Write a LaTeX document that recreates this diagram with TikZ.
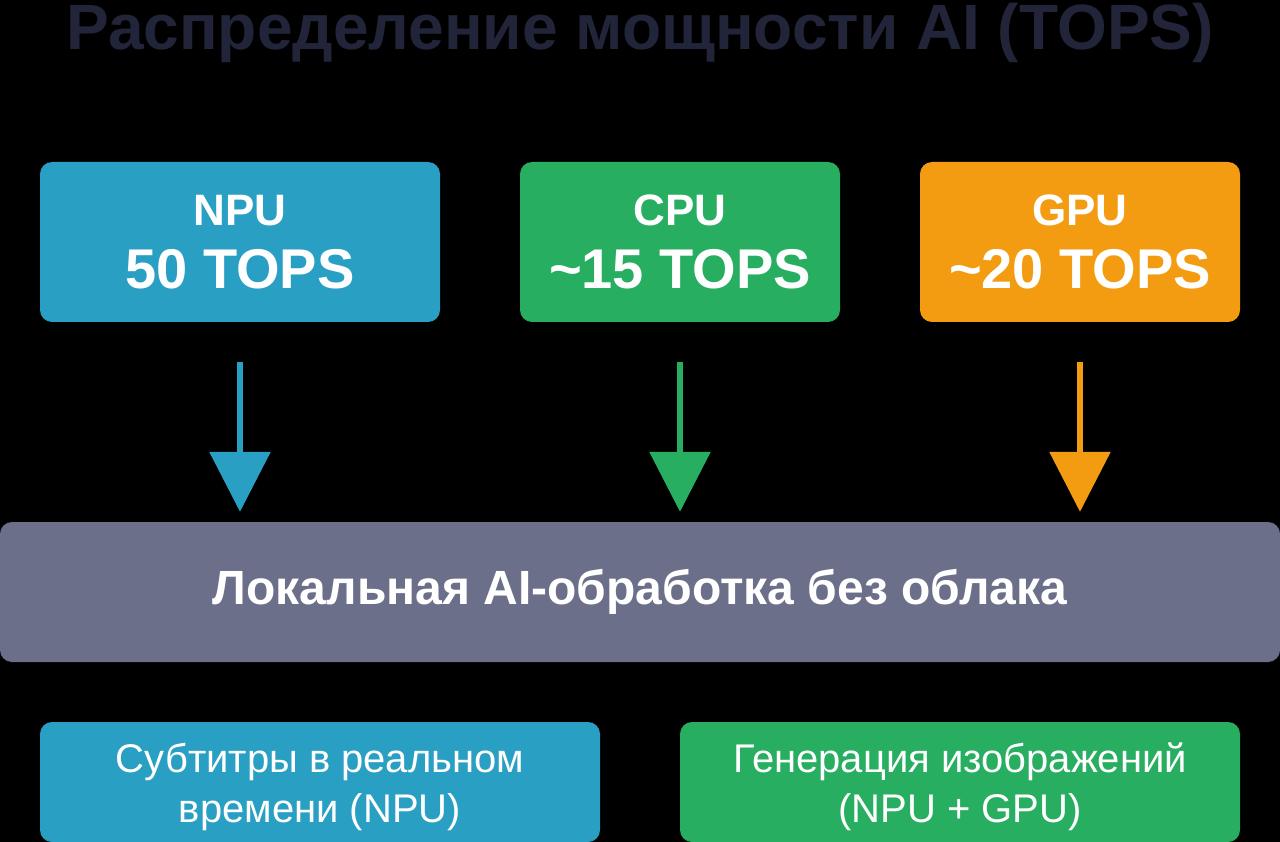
\documentclass[tikz,border=0pt]{standalone}
\usepackage{fontspec}
\setmainfont{Liberation Sans}
\usetikzlibrary{arrows.meta,positioning}

\definecolor{npublue}{HTML}{2A9FC4}
\definecolor{cpugreen}{HTML}{27AE60}
\definecolor{gpuorange}{HTML}{F39C12}
\definecolor{localgrey}{HTML}{6B6F8A}
\definecolor{titlenavy}{HTML}{22253A}

\begin{document}
\begin{tikzpicture}[x=1pt,y=-1pt]
            % units are pixels of the 1280 x 842 frame
            \tikzstyle{unit} = [rectangle, rounded corners=12pt, inner sep=0pt, text=white, align=center];
            \tikzstyle{chip} = [unit, minimum height=160pt, font=\fontsize{56}{63}\selectfont\bfseries];
            \tikzstyle{usecase} = [unit, minimum width=560pt, minimum height=120pt, font=\fontsize{40}{50}\selectfont];
            \tikzstyle{flow} = [line width=6pt, shorten <=40pt, shorten >=10pt, -{Triangle[width=60pt,length=60pt]}];

            \fill[black] (0,0) rectangle (1280,842);
            \useasboundingbox (0,0) rectangle (1280,842);

            \node[text=titlenavy, anchor=base, font=\fontsize{64}{72}\selectfont\bfseries] (title) at (640,50) {Распределение мощности AI (TOPS)};

            \node[chip, fill=npublue, minimum width=400pt] (npu) at (240,242)
                {{\fontsize{44}{63}\selectfont NPU}\\50 TOPS};
            \node[chip, fill=cpugreen, minimum width=320pt] (cpu) at (680,242)
                {{\fontsize{44}{63}\selectfont CPU}\\\textasciitilde15 TOPS};
            \node[chip, fill=gpuorange, minimum width=320pt] (gpu) at (1080,242)
                {{\fontsize{44}{63}\selectfont GPU}\\\textasciitilde20 TOPS};

            \node[unit, fill=localgrey, minimum width=1280pt, minimum height=140pt, font=\fontsize{48}{56}\selectfont\bfseries] (local) at (640,592)
                {Локальная AI-обработка без облака};

            % the strut pushes the two lines a little lower in the box
            \node[usecase, fill=npublue] (subs) at (320,782)
                {\rule{0pt}{40pt}Субтитры в реальном\\времени (NPU)};
            \node[usecase, fill=cpugreen] (imggen) at (960,782)
                {\rule{0pt}{40pt}Генерация изображений\\(NPU + GPU)};

            \draw[flow, npublue] (npu.south) -- (npu.south |- local.north);
            \draw[flow, cpugreen] (cpu.south) -- (cpu.south |- local.north);
            \draw[flow, gpuorange] (gpu.south) -- (gpu.south |- local.north);

        \end{tikzpicture}
\end{document}
